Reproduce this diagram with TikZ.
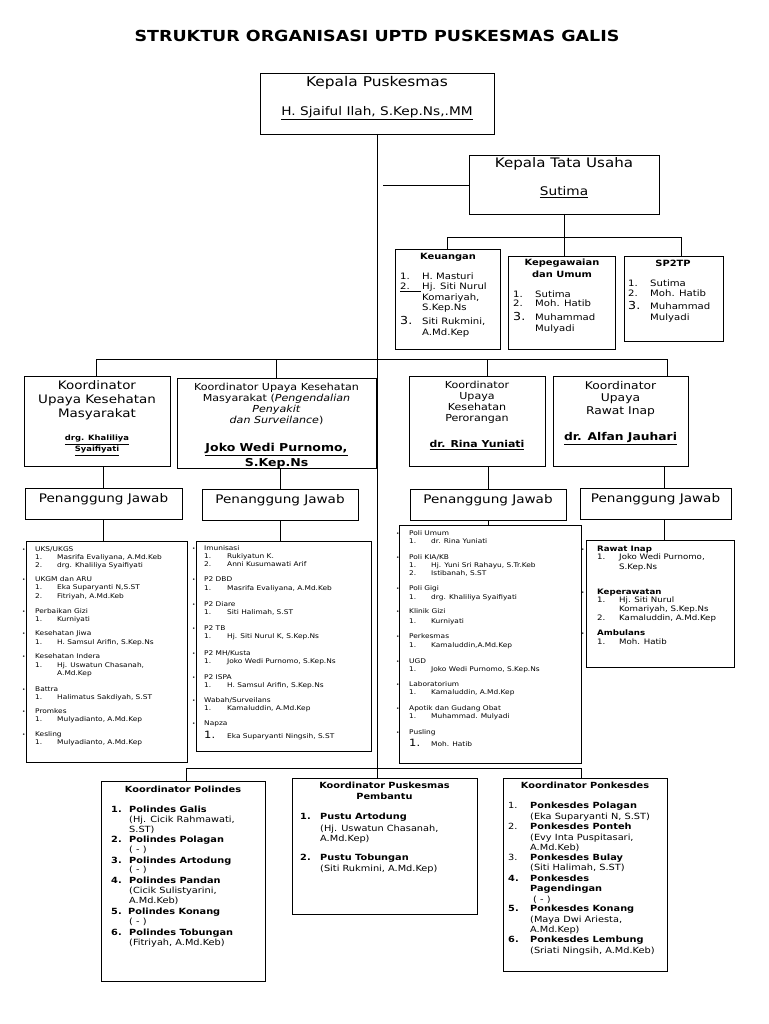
\documentclass[tikz,border=0pt]{standalone}
\usepackage{fontspec}
\setmainfont{DejaVu Sans}[FakeStretch=1.15]
\newcommand\fs[1]{\fontsize{#1}{#1}\selectfont}
\tikzset{
 box/.style={draw, line width=0.9pt, inner sep=0pt, outer sep=0pt, anchor=north west},
 conn/.style={line width=0.9pt},
 tx/.style={inner sep=0pt, anchor=mid west},
 tc/.style={inner sep=0pt, anchor=mid},
}
\newcommand\Bx[5]{\node[box, minimum width={(#4)-(#2)}, minimum height={(#5)-(#3)}] (#1) at (#2,#3) {};}
\newcommand\T[3]{\node[tx] at (#1,#2) {#3};}
\newcommand\C[3]{\node[tc] at (#1,#2) {#3};}
% heading with bullet: bulletx, headx, y, text
\newcommand\Hd[4]{\node[tx] at (#1,#3) {\fs{5}•}; \node[tx] at (#2,#3) {#4};}
% item: numx, textx, y, num, text
\newcommand\It[5]{\node[tx] at (#1,#3) {#4}; \node[tx] at (#2,#3) {#5};}
\begin{document}
\begin{tikzpicture}[x=1pt,y=-1pt]
\fill[white] (0,0) rectangle (768,1024);
\useasboundingbox (0,0) rectangle (768,1024);

% ---------- boxes ----------
\Bx{kp}{260}{73}{494}{134}
\Bx{ktu}{469}{155}{659}{214}
\Bx{keu}{395}{249}{500}{349}
\Bx{kep}{508}{256}{615}{349}
\Bx{sp}{624}{256}{723}{341}
\Bx{co1}{24}{376}{170}{466}
\Bx{co2}{177}{378}{376}{468}
\Bx{co3}{409}{376}{545}{466}
\Bx{co4}{553}{376}{688}{466}
\Bx{pj1}{25}{488}{182}{519}
\Bx{pj2}{202}{489}{358}{520}
\Bx{pj3}{410}{489}{566}{520}
\Bx{pj4}{580}{488}{731}{519}
\Bx{l1}{26}{541}{187}{762}
\Bx{l2}{196}{541}{371}{751}
\Bx{l3}{399}{525}{581}{763}
\Bx{l4}{586}{540}{734}{667}
\Bx{b1}{101}{781}{265}{981}
\Bx{b2}{292}{778}{477}{914}
\Bx{b3}{503}{778}{667}{971}

% ---------- connectors ----------
\draw[conn] (kp.south) -- (kp.south |- b2.north);
\coordinate (c0) at (383,185);
\draw[conn] (c0) -- (c0 -| ktu.west);
\coordinate (t1) at (447,237);
\coordinate (t3) at (681,237);
\draw[conn] (t1) -- (t3);
\draw[conn] (t1) -- (t1 |- keu.north);
\draw[conn] (t3) -- (t3 |- sp.north);
\draw[conn] (ktu.south) -- (ktu.south |- kep.north);
\coordinate (k1) at (96,359);
\coordinate (k2) at (276,359);
\coordinate (k3) at (487,359);
\coordinate (k4) at (667,359);
\draw[conn] (k1) -- (k4);
\draw[conn] (k1) -- (k1 |- co1.north);
\draw[conn] (k2) -- (k2 |- co2.north);
\draw[conn] (k3) -- (k3 |- co3.north);
\draw[conn] (k4) -- (k4 |- co4.north);
\draw[conn] (pj1.north) -- (pj1.north |- co1.south);
\draw[conn] (pj2.north) -- (pj2.north |- co2.south);
\draw[conn] (pj3.north) -- (pj3.north |- co3.south);
\coordinate (d4) at (664,0);
\draw[conn] (d4 |- co4.south) -- (d4 |- pj4.north);
\draw[conn] (pj1.south) -- (pj1.south |- l1.north);
\draw[conn] (pj2.south) -- (pj2.south |- l2.north);
\draw[conn] (pj3.south) -- (pj3.south |- l3.north);
\draw[conn] (d4 |- pj4.south) -- (d4 |- l4.north);
\coordinate (m1) at (186,768);
\coordinate (m3) at (581,768);
\draw[conn] (m1) -- (m3);
\draw[conn] (m1) -- (m1 |- b1.north);
\draw[conn] (m3) -- (m3 |- b3.north);

% ---------- title ----------
\C{377}{39}{\fs{15.2}\bfseries STRUKTUR ORGANISASI UPTD PUSKESMAS GALIS}
\C{377}{84}{\fs{13.4}Kepala Puskesmas}
\C{377}{113}{\fs{11.9}\underline{H. Sjaiful Ilah, S.Kep.Ns,.MM}}
\C{564}{165}{\fs{13.1}Kepala Tata Usaha}
\C{564}{193}{\fs{11.9}\underline{Sutima}}

% ---------- Keuangan ----------
\begin{scope}[font=\fs{8.8}]
\C{448}{257}{\fs{8.6}\bfseries Keuangan}
\It{400}{422}{277}{1.}{H. Masturi}
\It{400}{422}{287}{2.}{Hj. Siti Nurul}
\draw[line width=0.5pt] (400,291) -- (421,291);
\T{422}{298}{Komariyah,}
\T{422}{308}{S.Kep.Ns}
\It{400}{422}{322}{\fs{11}3.}{Siti Rukmini,}
\T{422}{333}{A.Md.Kep}
\C{562}{263}{\fs{8.6}\bfseries Kepegawaian}
\C{562}{275}{\fs{8.6}\bfseries dan Umum}
\It{513}{535}{295}{1.}{Sutima}
\It{513}{535}{304}{2.}{Moh. Hatib}
\It{513}{535}{318}{\fs{11}3.}{Muhammad}
\T{535}{329}{Mulyadi}
\C{673}{264}{\fs{8.6}\bfseries SP2TP}
\It{628}{650}{284}{1.}{Sutima}
\It{628}{650}{294}{2.}{Moh. Hatib}
\It{628}{650}{307}{\fs{11}3.}{Muhammad}
\T{650}{318}{Mulyadi}
\end{scope}

% ---------- coordinators ----------
\begin{scope}[font=\fs{11.7}]
\C{97}{387}{Koordinator}
\C{97}{401}{Upaya Kesehatan}
\C{97}{415}{Masyarakat}
\C{97}{438}{\fs{7.3}\bfseries\underline{drg. Khaliliya}}
\C{97}{449}{\fs{7.3}\bfseries\underline{Syaifiyati}}
\end{scope}
\begin{scope}[font=\fs{9.65}]
\C{276.5}{388}{Koordinator Upaya Kesehatan}
\C{276.5}{399}{Masyarakat (\textit{Pengendalian}}
\C{276.5}{410}{\textit{Penyakit}}
\C{276.5}{421}{\textit{dan Surveilance})}
\C{276.5}{449}{\fs{10.9}\bfseries\underline{Joko Wedi Purnomo,}}
\begin{scope}
\clip (177,455) rectangle (376,467.5);
\C{276.5}{464}{\fs{10.9}\bfseries\underline{S.Kep.Ns}}
\end{scope}
\C{477}{386}{Koordinator}
\C{477}{397}{Upaya}
\C{477}{408}{Kesehatan}
\C{477}{419}{Perorangan}
\C{477}{445}{\fs{9.5}\bfseries\underline{dr. Rina Yuniati}}
\end{scope}
\begin{scope}[font=\fs{10.7}]
\C{620.5}{387}{Koordinator}
\C{620.5}{399}{Upaya}
\C{620.5}{412}{Rawat Inap}
\C{620.5}{438}{\bfseries\underline{dr. Alfan Jauhari}}
\end{scope}
\begin{scope}[font=\fs{11.8}]
\C{103.5}{500}{Penanggung Jawab}
\C{280}{501}{Penanggung Jawab}
\C{488}{501}{Penanggung Jawab}
\C{655.5}{500}{Penanggung Jawab}
\end{scope}

% ---------- list 1 ----------
\begin{scope}[font=\fs{6.45}]
\Hd{22}{35}{549}{UKS/UKGS}
\It{35}{57}{557}{1.}{Masrifa Evaliyana, A.Md.Keb}
\It{35}{57}{565}{2.}{drg. Khaliliya Syaifiyati}
\Hd{22}{35}{579}{UKGM dan ARU}
\It{35}{57}{587}{1.}{Eka Suparyanti N,S.ST}
\It{35}{57}{596}{2.}{Fitriyah, A.Md.Keb}
\Hd{22}{35}{611}{Perbaikan Gizi}
\It{35}{57}{619}{1.}{Kurniyati}
\Hd{22}{35}{633}{Kesehatan Jiwa}
\It{35}{57}{642}{1.}{H. Samsul Arifin, S.Kep.Ns}
\Hd{22}{35}{656}{Kesehatan Indera}
\It{35}{57}{665}{1.}{Hj. Uswatun Chasanah,}
\T{57}{673}{A.Md.Kep}
\Hd{22}{35}{689}{Battra}
\It{35}{57}{697}{1.}{Halimatus Sakdiyah, S.ST}
\Hd{22}{35}{711}{Promkes}
\It{35}{57}{719}{1.}{Mulyadianto, A.Md.Kep}
\Hd{22}{35}{734}{Kesling}
\It{35}{57}{742}{1.}{Mulyadianto, A.Md.Kep}

% ---------- list 2 ----------
\Hd{192}{204}{548}{Imunisasi}
\It{204}{227}{556}{1.}{Rukiyatun K.}
\It{204}{227}{564}{2.}{Anni Kusumawati Arif}
\Hd{192}{204}{579}{P2 DBD}
\It{204}{227}{588}{1.}{Masrifa Evaliyana, A.Md.Keb}
\Hd{192}{204}{604}{P2 Diare}
\It{204}{227}{612}{1.}{Siti Halimah, S.ST}
\Hd{192}{204}{628}{P2 TB}
\It{204}{227}{636}{1.}{Hj. Siti Nurul K, S.Kep.Ns}
\Hd{192}{204}{653}{P2 MH/Kusta}
\It{204}{227}{661}{1.}{Joko Wedi Purnomo, S.Kep.Ns}
\Hd{192}{204}{677}{P2 ISPA}
\It{204}{227}{685}{1.}{H. Samsul Arifin, S.Kep.Ns}
\Hd{192}{204}{700}{Wabah/Surveilans}
\It{204}{227}{708}{1.}{Kamaluddin, A.Md.Kep}
\Hd{192}{204}{723}{Napza}
\It{204}{227}{736}{\fs{10}1.}{Eka Suparyanti Ningsih, S.ST}

% ---------- list 3 ----------
\Hd{396}{409}{533}{Poli Umum}
\It{409}{431}{541}{1.}{dr. Rina Yuniati}
\Hd{396}{409}{557}{Poli KIA/KB}
\It{409}{431}{565}{1.}{Hj. Yuni Sri Rahayu, S.Tr.Keb}
\It{409}{431}{573}{2.}{Istibanah, S.ST}
\Hd{396}{409}{588}{Poli Gigi}
\It{409}{431}{597}{1.}{drg. Khaliliya Syaifiyati}
\Hd{396}{409}{611}{Klinik Gizi}
\It{409}{431}{621}{1.}{Kurniyati}
\Hd{396}{409}{636}{Perkesmas}
\It{409}{431}{645}{1.}{Kamaluddin,A.Md.Kep}
\Hd{396}{409}{661}{UGD}
\It{409}{431}{669}{1.}{Joko Wedi Purnomo, S.Kep.Ns}
\Hd{396}{409}{684}{Laboratorium}
\It{409}{431}{692}{1.}{Kamaluddin, A.Md.Kep}
\Hd{396}{409}{708}{Apotik dan Gudang Obat}
\It{409}{431}{716}{1.}{Muhammad. Mulyadi}
\Hd{396}{409}{732}{Pusling}
\It{409}{431}{744}{\fs{10}1.}{Moh. Hatib}
\end{scope}

% ---------- list 4 ----------
\begin{scope}[font=\fs{7.5}]
\Hd{581}{597}{549}{\bfseries Rawat Inap}
\It{597}{619}{557}{1.}{Joko Wedi Purnomo,}
\T{619}{567}{S.Kep.Ns}
\Hd{581}{597}{592}{\bfseries Keperawatan}
\It{597}{619}{600}{1.}{Hj. Siti Nurul}
\T{619}{609}{Komariyah, S.Kep.Ns}
\It{597}{619}{618}{2.}{Kamaluddin, A.Md.Kep}
\Hd{581}{597}{633}{\bfseries Ambulans}
\It{597}{619}{642}{1.}{Moh. Hatib}
\end{scope}

% ---------- bottom boxes ----------
\begin{scope}[font=\fs{8.5}]
\C{183}{790}{\bfseries Koordinator Polindes}
\It{111}{129}{810}{\bfseries 1.}{\bfseries Polindes Galis}
\T{129}{820}{(Hj. Cicik Rahmawati,}
\T{129}{830}{S.ST)}
\It{111}{129}{840}{\bfseries 2.}{\bfseries Polindes Polagan}
\T{129}{850}{( - )}
\It{111}{129}{861}{\bfseries 3.}{\bfseries Polindes Artodung}
\T{129}{870}{( - )}
\It{111}{129}{881}{\bfseries 4.}{\bfseries Polindes Pandan}
\T{129}{891}{(Cicik Sulistyarini,}
\T{129}{901}{A.Md.Keb)}
\It{111}{128}{912}{\bfseries 5.}{\bfseries Polindes Konang}
\T{129}{922}{( - )}
\It{111}{129}{933}{\bfseries 6.}{\bfseries Polindes Tobungan}
\T{129}{943}{(Fitriyah, A.Md.Keb)}

\C{384.5}{786}{\bfseries Koordinator Puskesmas}
\C{384.5}{797}{\bfseries Pembantu}
\It{300}{320}{817}{\bfseries 1.}{\bfseries Pustu Artodung}
\T{320}{829}{(Hj. Uswatun Chasanah,}
\T{320}{839}{A.Md.Kep)}
\It{300}{320}{858}{\bfseries 2.}{\bfseries Pustu Tobungan}
\T{320}{869}{(Siti Rukmini, A.Md.Kep)}

\C{585}{786}{\bfseries Koordinator Ponkesdes}
\It{508}{530}{806}{1.}{\bfseries Ponkesdes Polagan}
\T{530}{817}{(Eka Suparyanti N, S.ST)}
\It{508}{530}{827}{2.}{\bfseries Ponkesdes Ponteh}
\T{530}{838}{(Evy Inta Puspitasari,}
\T{530}{848}{A.Md.Keb)}
\It{508}{530}{858}{3.}{\bfseries Ponkesdes Bulay}
\T{530}{868}{(Siti Halimah, S.ST)}
\It{508}{530}{879}{\bfseries 4.}{\bfseries Ponkesdes}
\T{530}{889}{\bfseries Pagendingan}
\T{533}{900}{( - )}
\It{508}{530}{909}{\bfseries 5.}{\bfseries Ponkesdes Konang}
\T{530}{920}{(Maya Dwi Ariesta,}
\T{530}{930}{A.Md.Kep)}
\It{508}{530}{940}{\bfseries 6.}{\bfseries Ponkesdes Lembung}
\T{530}{951}{(Sriati Ningsih, A.Md.Keb)}
\end{scope}
\end{tikzpicture}
\end{document}
